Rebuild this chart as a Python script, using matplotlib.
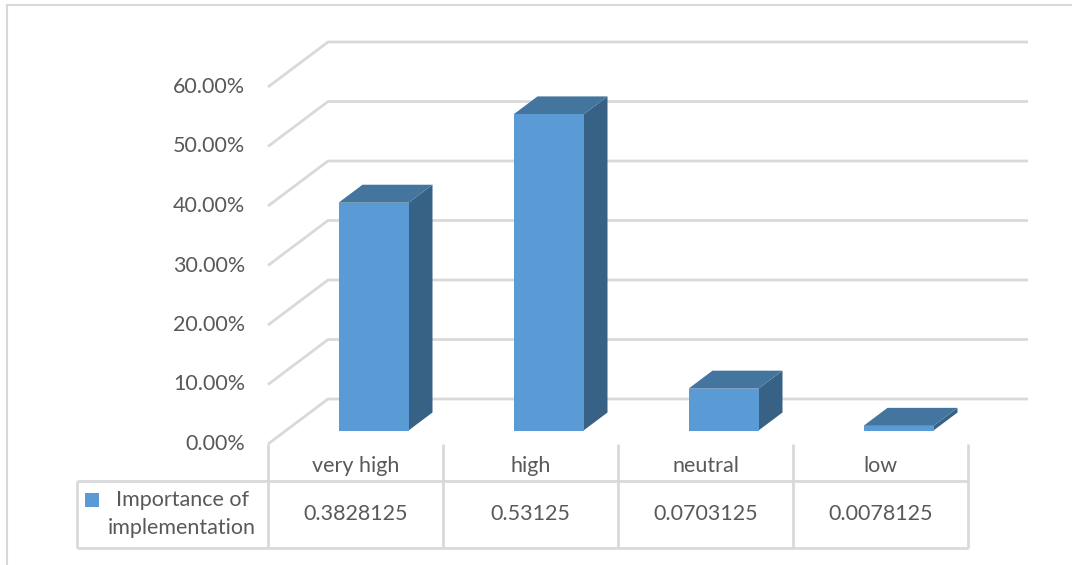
import numpy as np
import matplotlib.pyplot as plt
from matplotlib.patches import Polygon

plt.rcParams['font.family'] = ['Lato', 'DejaVu Sans']

# data
categories = ['very high', 'high', 'neutral', 'low']
values = [0.3828125, 0.53125, 0.0703125, 0.0078125]
series_name = 'Importance of\nimplementation'
ticks = [0.0, 0.1, 0.2, 0.3, 0.4, 0.5, 0.6]

# colours
front_c = '#5B9BD5'
top_c = '#44759F'
side_c = '#376185'
grid_c = '#D9D9D9'
text_c = '#595959'
fs = 15.5

W, H = 1072, 565
fig = plt.figure(figsize=(W / 100, H / 100), dpi=100)
ax = fig.add_axes([0, 0, 1, 1])
ax.set_axis_off()

# pixel scale: 175 px per category, 595 px per unit value
px_x, px_y = 175.0, 595.0
x0_px, y0_px = 268, 444
ax.set_xlim(-x0_px / px_x, (W - x0_px) / px_x)
ax.set_ylim(-(H - y0_px) / px_y, y0_px / px_y)

# oblique depth offset for a full depth step
dep_x = 60 / px_x
dep_y = 45 / px_y


def proj(x, y, z):
    return x + z * dep_x, y + z * dep_y


n = len(categories)

# back wall gridlines with the diagonal side wall
for t in ticks:
    xs, ys = zip(proj(0, t, 0), proj(0, t, 1), proj(n, t, 1))
    ax.plot(xs, ys, color=grid_c, lw=2, solid_capstyle='butt', zorder=1)
    ax.text(-23 / px_x, t, f'{t * 100:.2f}%', ha='right', va='center',
            fontsize=fs, color=text_c)

# 3d bars
bw = 0.4
z0, z1 = 0.3, 0.7
for i, v in enumerate(values):
    xl = i + 0.5 - bw / 2
    xr = i + 0.5 + bw / 2
    front = [proj(xl, 0, z0), proj(xr, 0, z0), proj(xr, v, z0), proj(xl, v, z0)]
    top = [proj(xl, v, z0), proj(xr, v, z0), proj(xr, v, z1), proj(xl, v, z1)]
    side = [proj(xr, 0, z0), proj(xr, 0, z1), proj(xr, v, z1), proj(xr, v, z0)]
    ax.add_patch(Polygon(side, closed=True, fc=side_c, ec='none', zorder=3))
    ax.add_patch(Polygon(top, closed=True, fc=top_c, ec='none', zorder=3))
    ax.add_patch(Polygon(front, closed=True, fc=front_c, ec='none', zorder=4))

# data table under the plot
row1 = (y0_px - 481) / px_y
row2 = (y0_px - 548) / px_y
left = (77 - x0_px) / px_x
tk = dict(color=grid_c, lw=2, solid_capstyle='butt', zorder=1)
for i in range(n + 1):
    ax.plot([i, i], [0, row2], **tk)
ax.plot([left, n], [row1, row1], **tk)
ax.plot([left, n], [row2, row2], **tk)
ax.plot([left, left], [row1, row2], **tk)

head_y = (y0_px - 466) / px_y
val_y = (y0_px - 514) / px_y
for i, (c, v) in enumerate(zip(categories, values)):
    ax.text(i + 0.5, head_y, c, ha='center', va='center', fontsize=fs, color=text_c)
    ax.text(i + 0.5, val_y, str(v), ha='center', va='center', fontsize=fs, color=text_c)

# legend key inside the table
ax.add_patch(plt.Rectangle(((85 - x0_px) / px_x, (y0_px - 507) / px_y),
                           14 / px_x, 14 / px_y, fc=front_c, ec='none'))
ax.text((182 - x0_px) / px_x, val_y, series_name, ha='center', va='center',
        fontsize=fs, color=text_c, linespacing=1.45)

# chart area frame (top and left edges)
fig.add_artist(plt.Line2D([7 / W, 1], [1 - 5 / H, 1 - 5 / H], color=grid_c, lw=1.5))
fig.add_artist(plt.Line2D([7 / W, 7 / W], [0, 1 - 5 / H], color=grid_c, lw=1.5))

fig.savefig('out.png', dpi=100)
